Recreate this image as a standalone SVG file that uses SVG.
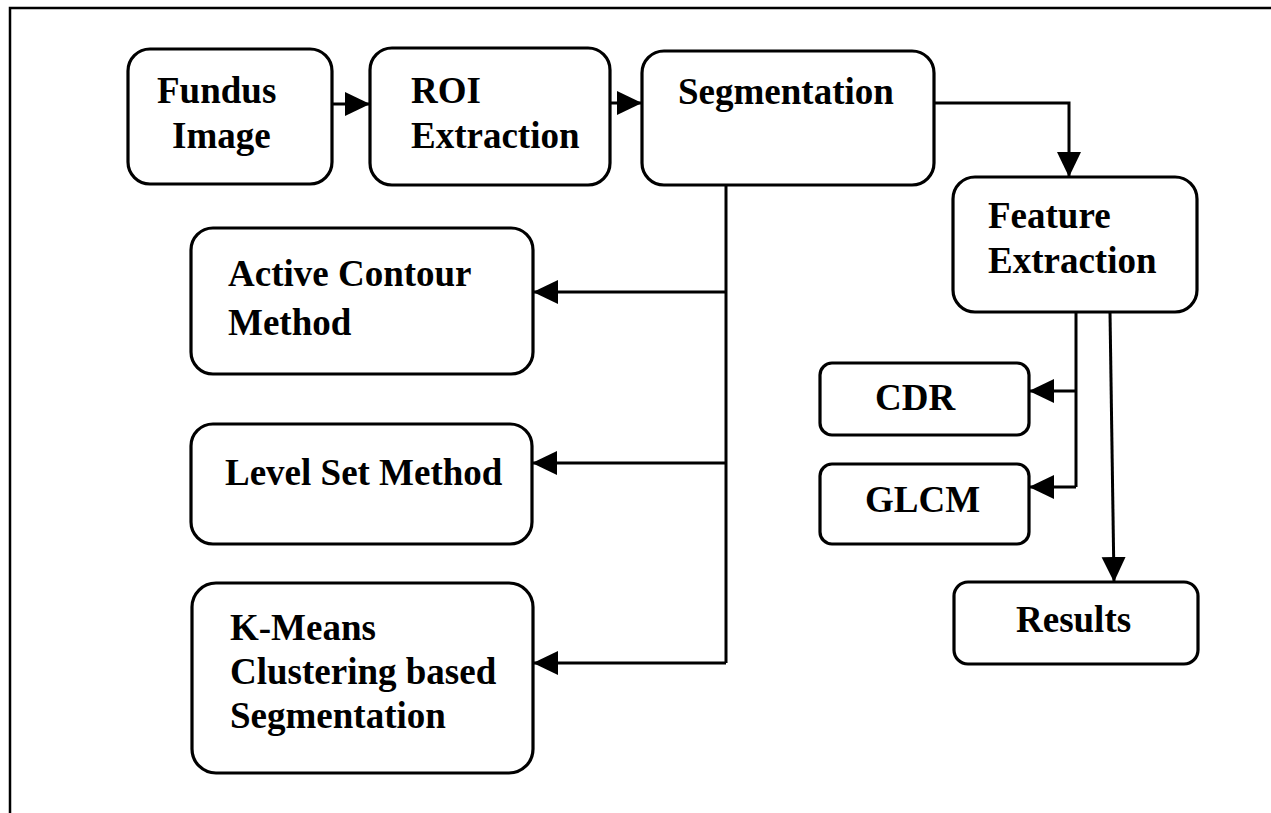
<svg xmlns="http://www.w3.org/2000/svg" width="1271" height="813" viewBox="0 0 1271 813">
  <style>
    .box { fill: #ffffff; stroke: #000000; stroke-width: 3.2; }
    .lbl { font-family: "Liberation Serif", "Times New Roman", serif; font-weight: bold; font-size: 37px; fill: #000000; }
    .wire { fill: none; stroke: #000000; stroke-width: 3; }
    .frame { fill: none; stroke: #000000; stroke-width: 2.5; }
  </style>
  <defs>
    <marker id="arrow" markerUnits="userSpaceOnUse" markerWidth="26" markerHeight="26" viewBox="0 0 26 26" refX="25" refY="13" orient="auto">
      <path d="M0,1 L25,13 L0,25 Z" fill="#000000"/>
    </marker>
  </defs>

  <rect width="1271" height="813" fill="#ffffff"/>
  <path class="frame" d="M10,813 V8 H1271"/>

  <g id="connectors">
    <line class="wire" x1="332" y1="104" x2="370" y2="104" marker-end="url(#arrow)"/>
    <line class="wire" x1="610" y1="103" x2="642" y2="103" marker-end="url(#arrow)"/>
    <path class="wire" d="M934,103 H1069 V177" marker-end="url(#arrow)"/>
    <path class="wire" d="M726,185 V663"/>
    <line class="wire" x1="726" y1="292" x2="533" y2="292" marker-end="url(#arrow)"/>
    <line class="wire" x1="726" y1="463" x2="532" y2="463" marker-end="url(#arrow)"/>
    <line class="wire" x1="726" y1="663" x2="533" y2="663" marker-end="url(#arrow)"/>
    <path class="wire" d="M1076,312 V487"/>
    <line class="wire" x1="1076" y1="391" x2="1029" y2="391" marker-end="url(#arrow)"/>
    <line class="wire" x1="1076" y1="487" x2="1029" y2="487" marker-end="url(#arrow)"/>
    <line class="wire" x1="1110" y1="312" x2="1114" y2="582" marker-end="url(#arrow)"/>
  </g>

  <g id="fundus">
    <rect class="box" x="128" y="49" width="204" height="135" rx="22"/>
    <text class="lbl" x="157" y="103">Fundus</text>
    <text class="lbl" x="172" y="148">Image</text>
  </g>

  <g id="roi">
    <rect class="box" x="370" y="48" width="240" height="137" rx="22"/>
    <text class="lbl" x="411" y="103">ROI</text>
    <text class="lbl" x="411" y="148">Extraction</text>
  </g>

  <g id="segmentation">
    <rect class="box" x="642" y="51" width="292" height="134" rx="22"/>
    <text class="lbl" x="678" y="104">Segmentation</text>
  </g>

  <g id="feature">
    <rect class="box" x="953" y="177" width="244" height="135" rx="22"/>
    <text class="lbl" x="988" y="228">Feature</text>
    <text class="lbl" x="988" y="273">Extraction</text>
  </g>

  <g id="active-contour">
    <rect class="box" x="191" y="228" width="342" height="146" rx="22"/>
    <text class="lbl" x="228" y="286">Active Contour</text>
    <text class="lbl" x="228" y="335">Method</text>
  </g>

  <g id="level-set">
    <rect class="box" x="191" y="424" width="341" height="120" rx="22"/>
    <text class="lbl" x="225" y="485">Level Set Method</text>
  </g>

  <g id="kmeans">
    <rect class="box" x="192" y="583" width="341" height="190" rx="24"/>
    <text class="lbl" x="230" y="640">K-Means</text>
    <text class="lbl" x="230" y="684">Clustering based</text>
    <text class="lbl" x="230" y="728">Segmentation</text>
  </g>

  <g id="cdr">
    <rect class="box" x="820" y="363" width="209" height="72" rx="12"/>
    <text class="lbl" x="875" y="410">CDR</text>
  </g>

  <g id="glcm">
    <rect class="box" x="820" y="464" width="209" height="80" rx="12"/>
    <text class="lbl" x="865" y="512">GLCM</text>
  </g>

  <g id="results">
    <rect class="box" x="954" y="582" width="244" height="82" rx="14"/>
    <text class="lbl" x="1016" y="632">Results</text>
  </g>
</svg>
